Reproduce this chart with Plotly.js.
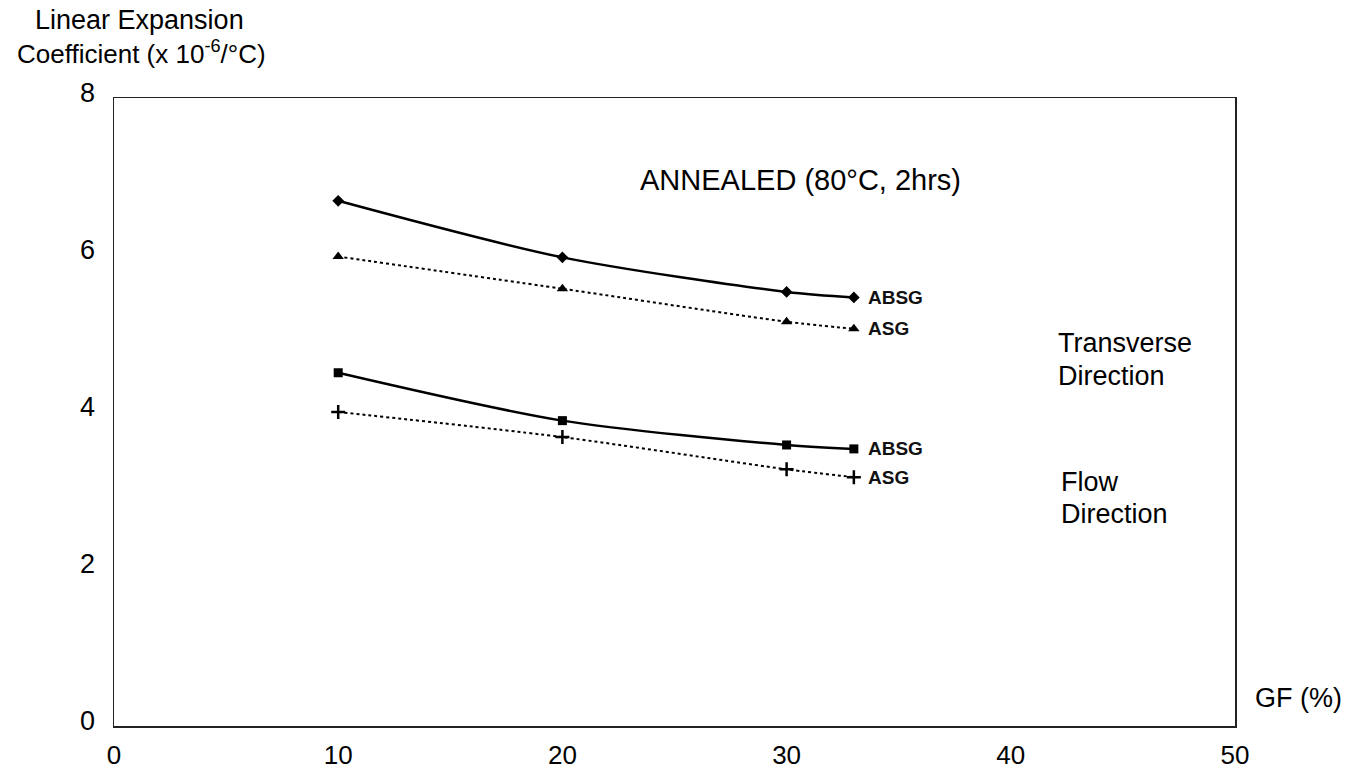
<!DOCTYPE html>
<html>
<head>
<meta charset="utf-8">
<script src="https://cdn.plot.ly/plotly-3.0.1.min.js"></script>
<style>html,body{margin:0;padding:0;background:#fff;}#chart{width:1357px;height:771px;}</style>
</head>
<body>
<div id="chart"></div>
<script>
// Glass fibre content (%)
const gf = [10, 20, 30, 33];
// Linear expansion coefficient (x 10^-6 /°C)
const absgTransverse = [6.69, 5.97, 5.53, 5.46];
const asgTransverse  = [5.98, 5.57, 5.15, 5.06];
const absgFlow       = [4.50, 3.89, 3.58, 3.53];
const asgFlow        = [4.00, 3.68, 3.27, 3.17];

const xTicks = [0, 10, 20, 30, 40, 50];
const yTicks = [0, 2, 4, 6, 8];

const FONT = 'Liberation Sans, Arial, sans-serif';

function series(y, symbol, dash, width, msize) {
  return {
    x: gf, y: y, type: 'scatter', mode: 'lines+markers',
    line: {color: '#000', width: width, dash: dash, shape: 'spline', smoothing: 0.8},
    marker: {symbol: symbol, size: msize, color: '#000', line: {color: '#000', width: symbol === 'cross-thin' ? 2.5 : 0}},
    showlegend: false, hoverinfo: 'skip'
  };
}

const data = [
  series(absgTransverse, 'diamond', 'solid', 2.5, 9),
  series(asgTransverse, 'triangle-up', 'dot', 2, 10),
  series(absgFlow, 'square', 'solid', 2.5, 9),
  series(asgFlow, 'cross-thin', 'dot', 2, 10)
];

const ann = [];
function txt(x, y, t, opt) {
  ann.push(Object.assign({x: x, y: y, text: t, showarrow: false,
    font: {family: FONT, size: 27, color: '#000'}}, opt));
}
// series labels (data coords)
const lblFont = {family: FONT, size: 19, color: '#111', weight: 'bold'};
txt(gf[3], absgTransverse[3], 'ABSG', {xanchor: 'left', xshift: 12, font: lblFont});
txt(gf[3], asgTransverse[3], 'ASG', {xanchor: 'left', xshift: 12, font: lblFont});
txt(gf[3], absgFlow[3], 'ABSG', {xanchor: 'left', xshift: 12, font: lblFont});
txt(gf[3], asgFlow[3], 'ASG', {xanchor: 'left', xshift: 12, font: lblFont});

// Plot area: x 114..1235 px, y 98..726 px
const L = 114, R = 1235, T = 98, B = 726;
function px(xp) { return (xp - L) / (R - L); }
function py(yp) { return (B - yp) / (B - T); }
function ptxt(xp, yp, t, opt) {
  txt(px(xp), py(yp), t, Object.assign({xref: 'paper', yref: 'paper', yanchor: 'middle'}, opt));
}
ptxt(800, 180, 'ANNEALED (80°C, 2hrs)', {xanchor: 'center', font: {family: FONT, size: 29, color: '#000'}});
ptxt(1056, 343, 'Transverse', {xanchor: 'left'});
ptxt(1056, 376, 'Direction', {xanchor: 'left'});
ptxt(1059, 482, 'Flow', {xanchor: 'left'});
ptxt(1059, 514, 'Direction', {xanchor: 'left'});
ptxt(1253, 698, 'GF (%)', {xanchor: 'left'});
ptxt(139, 20, 'Linear Expansion', {xanchor: 'center', font: {family: FONT, size: 27, color: '#000'}});
ptxt(141, 53, 'Coefficient (x 10<sup>-6</sup>/°C)', {xanchor: 'center', font: {family: FONT, size: 26, color: '#000'}});

const layout = {
  width: 1357, height: 771,
  margin: {l: L, r: 1357 - R, t: T, b: 771 - B, pad: 0},
  paper_bgcolor: '#fff', plot_bgcolor: '#fff',
  font: {family: FONT, size: 27, color: '#000'},
  xaxis: {
    range: [0, 50], tickvals: xTicks, ticktext: xTicks.map(String),
    showgrid: false, zeroline: false, showline: true, mirror: true,
    linecolor: '#222', linewidth: 1.5, ticks: '', ticklabelstandoff: 5,
    tickfont: {family: FONT, size: 26, color: '#000'}, fixedrange: true
  },
  yaxis: {
    range: [0, 8], tickvals: yTicks, ticktext: yTicks.map(String),
    showgrid: false, zeroline: false, showline: true, mirror: true,
    linecolor: '#222', linewidth: 1.5, ticks: '', ticklabelstandoff: 12,
    ticklabelshift: -5,
    tickfont: {family: FONT, size: 27, color: '#000'}, fixedrange: true
  },
  annotations: ann
};

Plotly.newPlot('chart', data, layout, {displayModeBar: false, staticPlot: true});
</script>
</body>
</html>
